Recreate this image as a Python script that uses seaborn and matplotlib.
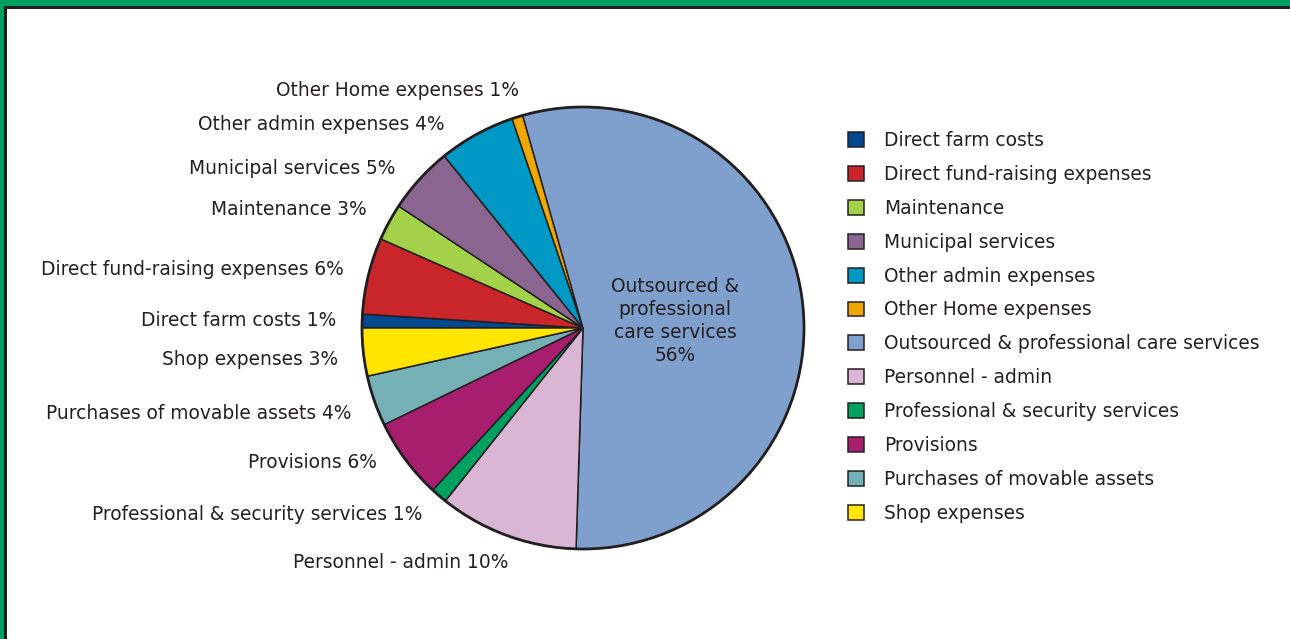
import matplotlib
matplotlib.use("Agg")
import matplotlib.pyplot as plt
from matplotlib.patches import Rectangle
import numpy as np
import seaborn as sns

sns.set_style("white")
plt.rcParams['font.family'] = ['DejaVu Sans']

# Categorías en orden de la leyenda (y del sentido horario en la tarta)
categorias = [
    "Direct farm costs",
    "Direct fund-raising expenses",
    "Maintenance",
    "Municipal services",
    "Other admin expenses",
    "Other Home expenses",
    "Outsourced & professional care services",
    "Personnel - admin",
    "Professional & security services",
    "Provisions",
    "Purchases of movable assets",
    "Shop expenses",
]
# Tamaño de cada porción (%)
valores = [1.0, 5.6, 2.7, 4.9, 5.6, 0.8, 54.9, 10.2, 1.2, 5.9, 3.7, 3.5]
# Porcentajes tal como aparecen escritos en las etiquetas
etiquetas_pct = ["1%", "6%", "3%", "5%", "4%", "1%", "56%", "10%", "1%", "6%", "4%", "3%"]
colores = sns.color_palette([
    "#004890", "#c8262a", "#a4d14a", "#8a6590", "#0098c4", "#f0a800",
    "#7f9fcc", "#d8b6d4", "#00a060", "#a81e6e", "#74b0b6", "#ffe500",
])
texto = "#231f20"
fs = 13.4

W, H = 1290, 639
fig = plt.figure(figsize=(W / 100, H / 100), dpi=100)
fig.patch.set_facecolor("#00a060")

# Marco: banda verde arriba e izquierda, línea oscura y fondo blanco
fig.patches.append(Rectangle((4 / W, 0), 1, 1 - 6 / H, transform=fig.transFigure,
                             facecolor="#1e1e1e", edgecolor="none", zorder=-2))
fig.patches.append(Rectangle((7 / W, 0), 1, 1 - 9 / H, transform=fig.transFigure,
                             facecolor="white", edgecolor="none", zorder=-1))

# Ejes cuadrados centrados en el centro de la tarta
R = 221
L = 1.3
cx, cy = 583, H - 328
lado = 2 * L * R
ax = fig.add_axes([(cx - lado / 2) / W, (cy - lado / 2) / H, lado / W, lado / H])

cunas, _ = ax.pie(
    valores, colors=colores, startangle=180, counterclock=False, radius=1,
    wedgeprops=dict(edgecolor=texto, linewidth=1.1),
)
# pie() cambia los límites: los fijamos después
ax.set_xlim(-L, L)
ax.set_ylim(-L, L)
ax.axis("off")
# Borde exterior un poco más grueso
ax.add_patch(plt.Circle((0, 0), 1, fill=False, edgecolor=texto, linewidth=2))

# Pequeños ajustes angulares (grados) de algunas etiquetas, como en el original
ajuste = {"Other admin expenses": 5.4, "Other Home expenses": -2.2, "Provisions": -3.4,
          "Personnel - admin": 2.5, "Municipal services": 1.9, "Purchases of movable assets": 1.0,
          "Shop expenses": 1.0}

for c, cat, pct in zip(cunas, categorias, etiquetas_pct):
    ang = (c.theta1 + c.theta2) / 2
    if cat.startswith("Outsourced"):
        a = np.deg2rad(ang)
        ax.text(0.42 * np.cos(a), 0.42 * np.sin(a) - 0.02,
                "Outsourced &\nprofessional\ncare services\n" + pct,
                ha="center", va="center", fontsize=fs, color=texto, linespacing=1.28)
        continue
    a = np.deg2rad(ang + ajuste.get(cat, 0))
    x, y = 1.115 * np.cos(a), 1.115 * np.sin(a)
    ax.text(x, y, f"{cat} {pct}", ha="right" if x < 0 else "left", va="center",
            fontsize=fs, color=texto)

fig.legend(
    cunas, categorias, loc="upper left", bbox_to_anchor=(848 / W, 1 - 131 / H),
    frameon=False, fontsize=fs, handlelength=0.86, handleheight=0.86,
    handletextpad=1.1, labelspacing=0.80, borderpad=0, borderaxespad=0,
    labelcolor=texto,
)

fig.savefig("out.png", dpi=100)
